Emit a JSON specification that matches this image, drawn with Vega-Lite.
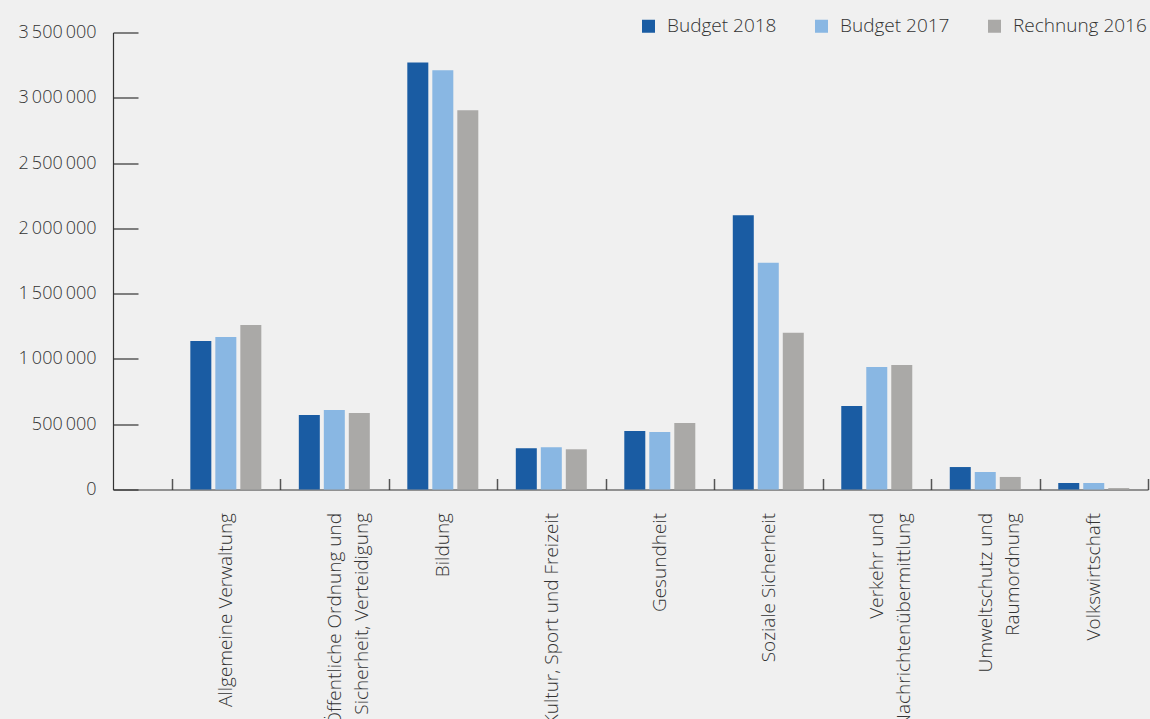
{
  "$schema": "https://vega.github.io/schema/vega-lite/v6.json",
  "width": 1035,
  "height": 457,
  "autosize": {"type": "none"},
  "padding": {"left": 113, "top": 32.5, "right": 2, "bottom": 229.5},
  "background": "#f0f0f0",
  "config": {
    "locale": {"number": {"decimal": ",", "thousands": "\u2009", "grouping": [3], "currency": ["", ""]}},
    "view": {"stroke": null},
    "font": "Open Sans"
  },
  "data": {
    "values": [
      {"Aufgabe": "Allgemeine Verwaltung", "Serie": "Budget 2018", "Wert": 1137000},
      {"Aufgabe": "Allgemeine Verwaltung", "Serie": "Budget 2017", "Wert": 1168000},
      {"Aufgabe": "Allgemeine Verwaltung", "Serie": "Rechnung 2016", "Wert": 1260000},
      {"Aufgabe": "Öffentliche Ordnung und Sicherheit, Verteidigung", "Serie": "Budget 2018", "Wert": 571000},
      {"Aufgabe": "Öffentliche Ordnung und Sicherheit, Verteidigung", "Serie": "Budget 2017", "Wert": 609000},
      {"Aufgabe": "Öffentliche Ordnung und Sicherheit, Verteidigung", "Serie": "Rechnung 2016", "Wert": 586000},
      {"Aufgabe": "Bildung", "Serie": "Budget 2018", "Wert": 3271000},
      {"Aufgabe": "Bildung", "Serie": "Budget 2017", "Wert": 3210000},
      {"Aufgabe": "Bildung", "Serie": "Rechnung 2016", "Wert": 2904000},
      {"Aufgabe": "Kultur, Sport und Freizeit", "Serie": "Budget 2018", "Wert": 316000},
      {"Aufgabe": "Kultur, Sport und Freizeit", "Serie": "Budget 2017", "Wert": 323000},
      {"Aufgabe": "Kultur, Sport und Freizeit", "Serie": "Rechnung 2016", "Wert": 308000},
      {"Aufgabe": "Gesundheit", "Serie": "Budget 2018", "Wert": 448000},
      {"Aufgabe": "Gesundheit", "Serie": "Budget 2017", "Wert": 440000},
      {"Aufgabe": "Gesundheit", "Serie": "Rechnung 2016", "Wert": 509000},
      {"Aufgabe": "Soziale Sicherheit", "Serie": "Budget 2018", "Wert": 2101000},
      {"Aufgabe": "Soziale Sicherheit", "Serie": "Budget 2017", "Wert": 1737000},
      {"Aufgabe": "Soziale Sicherheit", "Serie": "Rechnung 2016", "Wert": 1200000},
      {"Aufgabe": "Verkehr und Nachrichtenübermittlung", "Serie": "Budget 2018", "Wert": 640000},
      {"Aufgabe": "Verkehr und Nachrichtenübermittlung", "Serie": "Budget 2017", "Wert": 938000},
      {"Aufgabe": "Verkehr und Nachrichtenübermittlung", "Serie": "Rechnung 2016", "Wert": 953000},
      {"Aufgabe": "Umweltschutz und Raumordnung", "Serie": "Budget 2018", "Wert": 172000},
      {"Aufgabe": "Umweltschutz und Raumordnung", "Serie": "Budget 2017", "Wert": 134000},
      {"Aufgabe": "Umweltschutz und Raumordnung", "Serie": "Rechnung 2016", "Wert": 96000},
      {"Aufgabe": "Volkswirtschaft", "Serie": "Budget 2018", "Wert": 50000},
      {"Aufgabe": "Volkswirtschaft", "Serie": "Budget 2017", "Wert": 50000},
      {"Aufgabe": "Volkswirtschaft", "Serie": "Rechnung 2016", "Wert": 11000}
    ]
  },
  "mark": {"type": "bar"},
  "encoding": {
    "x": {
      "field": "Aufgabe",
      "type": "nominal",
      "sort": null,
      "scale": {"paddingInner": 0, "paddingOuter": 0.27, "align": 1},
      "axis": {
        "title": null,
        "labelAngle": -90,
        "labelFontSize": 19,
        "labelFontWeight": 300,
        "labelColor": "#333333",
        "labelPadding": 34,
        "labelLimit": 500,
        "labelLineHeight": 27,
        "labelExpr": "datum.value == 'Öffentliche Ordnung und Sicherheit, Verteidigung' ? ['Öffentliche Ordnung und', 'Sicherheit, Verteidigung'] : datum.value == 'Verkehr und Nachrichtenübermittlung' ? ['Verkehr und', 'Nachrichtenübermittlung'] : datum.value == 'Umweltschutz und Raumordnung' ? ['Umweltschutz und', 'Raumordnung'] : datum.value",
        "tickSize": -11,
        "tickBand": "extent",
        "tickExtra": false,
        "tickColor": "#555555",
        "tickWidth": 1.5,
        "domainColor": "#333333",
        "domainWidth": 1.2,
        "grid": false
      }
    },
    "xOffset": {
      "field": "Serie",
      "sort": ["Budget 2018", "Budget 2017", "Rechnung 2016"],
      "scale": {"paddingInner": 0.16, "paddingOuter": 0.75}
    },
    "y": {
      "field": "Wert",
      "type": "quantitative",
      "scale": {"domain": [0, 3500000], "nice": false},
      "axis": {
        "title": null,
        "values": [0, 500000, 1000000, 1500000, 2000000, 2500000, 3000000, 3500000],
        "format": ",d",
        "tickSize": -25,
        "tickColor": "#333333",
        "tickWidth": 1.2,
        "domainColor": "#333333",
        "domainWidth": 1.2,
        "labelFontSize": 18,
        "labelFontWeight": 300,
        "labelColor": "#333333",
        "labelPadding": 42,
        "grid": false
      }
    },
    "color": {
      "field": "Serie",
      "type": "nominal",
      "sort": ["Budget 2018", "Budget 2017", "Rechnung 2016"],
      "scale": {"domain": ["Budget 2018", "Budget 2017", "Rechnung 2016"], "range": ["#1a5ca3", "#89b7e3", "#aaa9a7"]},
      "legend": {
        "orient": "none",
        "legendX": 526,
        "legendY": -16,
        "direction": "horizontal",
        "title": null,
        "symbolType": "square",
        "symbolSize": 169,
        "symbolStrokeWidth": 0,
        "labelFontSize": 19,
        "labelFontWeight": 300,
        "labelColor": "#333333",
        "labelOffset": 9,
        "columnPadding": 35,
        "padding": 0
      }
    }
  }
}
